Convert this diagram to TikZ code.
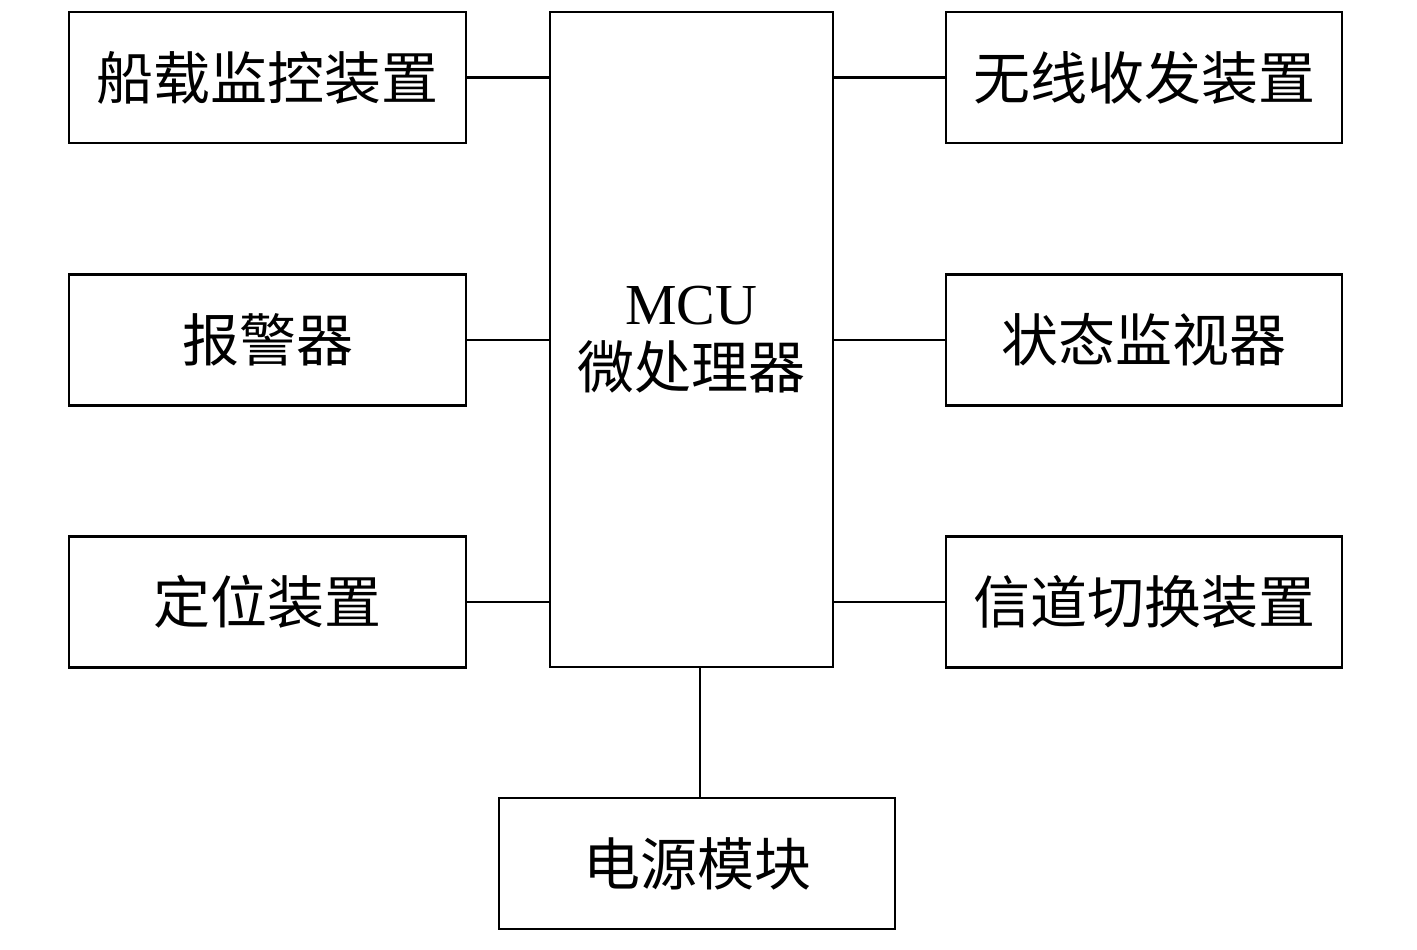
\documentclass[tikz,border=0pt]{standalone}
\usepackage{fontspec}
\setmainfont{Liberation Serif}
\newfontfamily\cjk{Noto Sans CJK SC}[Scale=1]
\begin{document}
\begin{tikzpicture}[x=1pt,y=-1pt,
  box/.style={draw,line width=2.6pt,inner sep=0pt,font=\fontsize{57}{62}\selectfont\cjk},
  conn/.style={line width=2.6pt}]
\useasboundingbox (0,0) rectangle (1417,950);
\node[box,minimum width=397pt,minimum height=131pt] (a) at (267.5,77.5) {船载监控装置};
\node[box,minimum width=397pt,minimum height=131pt] (b) at (267.5,340) {报警器};
\node[box,minimum width=397pt,minimum height=131pt] (c) at (267.5,602) {定位装置};
\node[box,minimum width=396pt,minimum height=131pt] (d) at (1144,77.5) {无线收发装置};
\node[box,minimum width=396pt,minimum height=131pt] (e) at (1144,340) {状态监视器};
\node[box,minimum width=396pt,minimum height=131pt] (f) at (1144,602) {信道切换装置};
\node[box,minimum width=283pt,minimum height=655pt,align=center] (m) at (691.5,339.5) {{\rmfamily\fontsize{58}{70}\selectfont MCU}\\[2pt]微处理器};
\node[box,minimum width=396pt,minimum height=131pt] (p) at (697,863.5) {电源模块};
\draw[conn] (a.east) -- (a.east -| m.west);
\draw[conn] (b.east) -- (b.east -| m.west);
\draw[conn] (c.east) -- (c.east -| m.west);
\draw[conn] (d.west) -- (d.west -| m.east);
\draw[conn] (e.west) -- (e.west -| m.east);
\draw[conn] (f.west) -- (f.west -| m.east);
\coordinate (mb) at (700,667);
\draw[conn] (mb) -- (mb |- p.north);
\end{tikzpicture}
\end{document}
